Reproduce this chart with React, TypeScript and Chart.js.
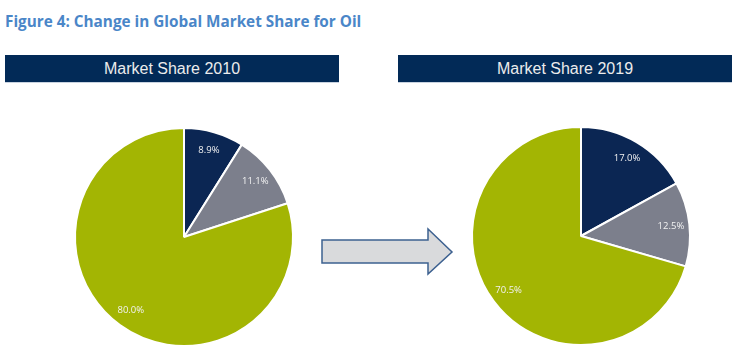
import React, { useEffect, useRef } from "react";
import { Chart, registerables } from "chart.js";

Chart.register(...registerables);

const titleText = "Figure 4: Change in Global Market Share for Oil";
const segments = ["Segment A", "Segment B", "Segment C"];
const share2010 = [8.9, 11.1, 80.0];
const share2019 = [17.0, 12.5, 70.5];
const headers = ["Market Share 2010", "Market Share 2019"];
const sliceColors = ["#0b2653", "#7c7f8c", "#a3b503"];

const labelPlugin = {
  id: "sliceLabels",
  afterDatasetsDraw(chart: any) {
    const ctx = chart.ctx;
    const meta = chart.getDatasetMeta(0);
    const data = chart.data.datasets[0].data as number[];
    ctx.save();
    ctx.fillStyle = "#f2f2f2";
    ctx.font = "9.5px 'Open Sans', Lato, sans-serif";
    ctx.textAlign = "center";
    ctx.textBaseline = "middle";
    meta.data.forEach((arc: any, i: number) => {
      const p = arc.getProps(["x", "y", "startAngle", "endAngle", "outerRadius"], true);
      const mid = (p.startAngle + p.endAngle) / 2;
      const d = p.outerRadius * 0.83;
      ctx.fillText(data[i].toFixed(1) + "%", p.x + Math.cos(mid) * d, p.y + Math.sin(mid) * d);
    });
    ctx.restore();
  },
};

function Pie({ values, left, top }: { values: number[]; left: number; top: number }) {
  const ref = useRef<HTMLCanvasElement>(null);
  useEffect(() => {
    if (!ref.current) return;
    const chart = new Chart(ref.current, {
      type: "pie",
      data: {
        labels: segments,
        datasets: [
          {
            data: values,
            backgroundColor: sliceColors,
            borderColor: "#ffffff",
            borderWidth: 2,
            hoverBorderWidth: 2,
            hoverOffset: 0,
          },
        ],
      },
      options: {
        responsive: false,
        animation: false,
        events: [],
        radius: 109,
        layout: { padding: 0 },
        plugins: { legend: { display: false }, tooltip: { enabled: false } },
      } as any,
      plugins: [labelPlugin],
    });
    return () => chart.destroy();
  }, []);
  return (
    <canvas
      ref={ref}
      width={240}
      height={240}
      style={{ position: "absolute", left, top, width: 240, height: 240 }}
    />
  );
}

function Header({ text, left }: { text: string; left: number }) {
  return (
    <div
      style={{
        position: "absolute",
        left,
        top: 55,
        width: 334,
        height: 27,
        background: "#022a57",
        color: "#ececec",
        font: "16px 'Liberation Sans', Arial, sans-serif",
        lineHeight: "27px",
        textAlign: "center",
        borderBottom: "1px solid #c9d3e0",
      }}
    >
      {text}
    </div>
  );
}

export default function App() {
  return (
    <div
      style={{
        position: "absolute",
        left: 0,
        top: 0,
        width: 737,
        height: 352,
        background: "#ffffff",
        overflow: "hidden",
      }}
    >
      <div
        style={{
          position: "absolute",
          left: 5,
          top: 11,
          font: "bold 15.3px 'Open Sans', Lato, sans-serif",
          lineHeight: "21px",
          color: "#4a86c8",
          whiteSpace: "nowrap",
        }}
      >
        {titleText}
      </div>
      <Header text={headers[0]} left={5} />
      <Header text={headers[1]} left={398} />
      <Pie values={share2010} left={64} top={117} />
      <Pie values={share2019} left={461} top={116} />
      <svg
        width={737}
        height={352}
        style={{ position: "absolute", left: 0, top: 0, pointerEvents: "none" }}
      >
        <polygon
          points="322,240 428,240 428,229 452,252 428,274 428,263 322,263"
          fill="#d9dadc"
          stroke="#3d6190"
          strokeWidth={1.5}
          strokeLinejoin="miter"
        />
      </svg>
    </div>
  );
}
